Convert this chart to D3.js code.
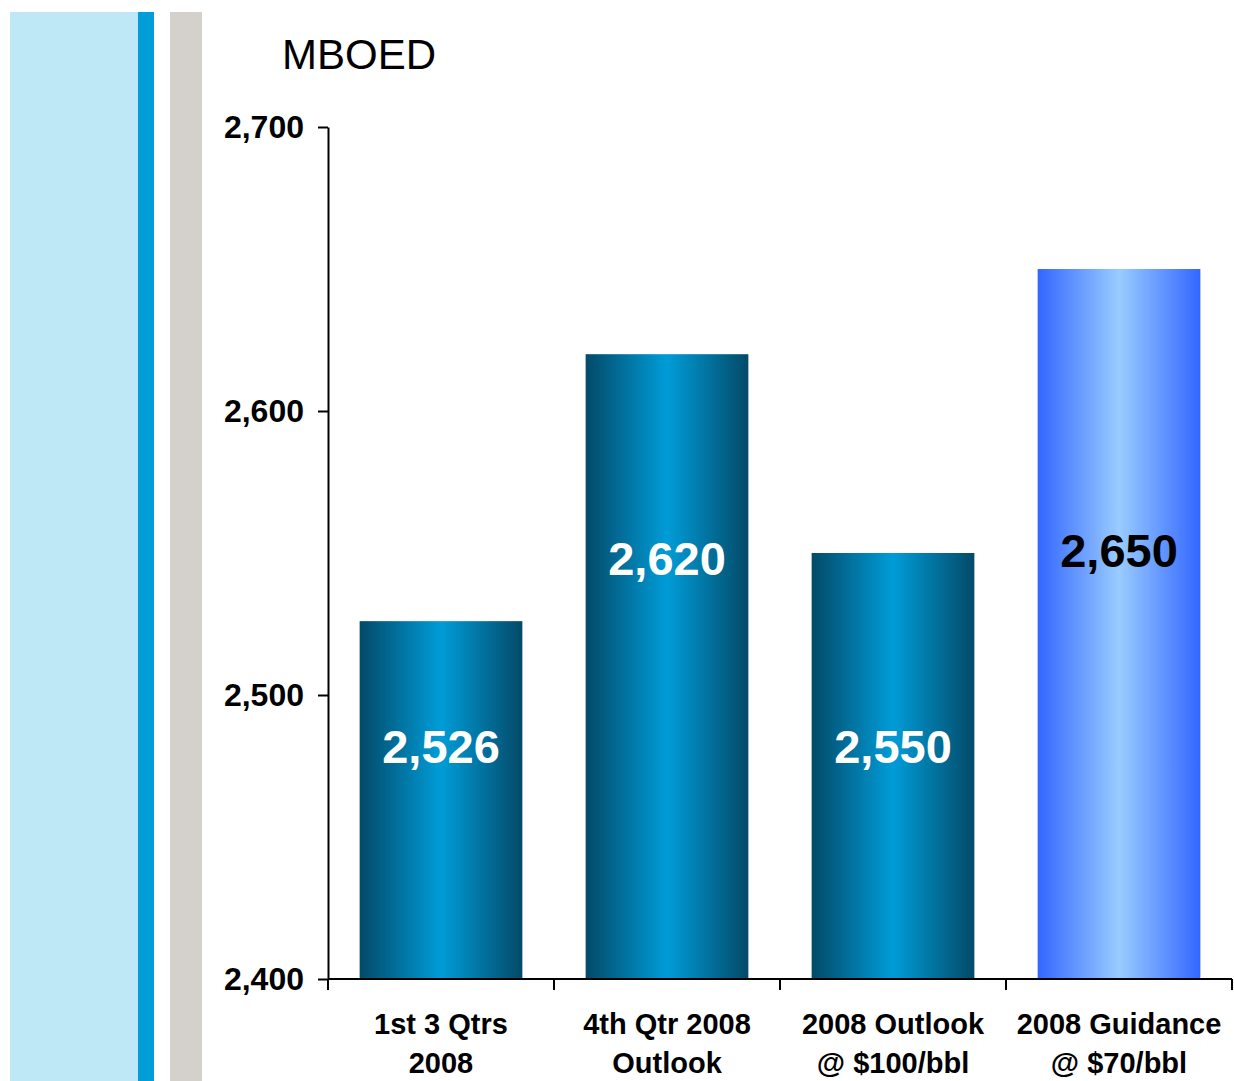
<!DOCTYPE html>
<html>
<head>
<meta charset="utf-8">
<script src="https://cdn.jsdelivr.net/npm/d3@7/dist/d3.min.js"></script>
<style>
  html, body { margin: 0; padding: 0; background: #ffffff; }
  svg { display: block; }
  text { font-family: "Liberation Sans", Arial, sans-serif; }
</style>
</head>
<body>
<script>
// Production figures (thousand barrels of oil equivalent per day)
const categories = [
  ["1st 3 Qtrs", "2008"],
  ["4th Qtr 2008", "Outlook"],
  ["2008 Outlook", "@ $100/bbl"],
  ["2008 Guidance", "@ $70/bbl"]
];
const values = [2526, 2620, 2550, 2650];
const valueLabels = ["2,526", "2,620", "2,550", "2,650"];
// where each value label sits, in axis units
const labelAt = [2482, 2548, 2482, 2551];
const barStyle = ["dark", "dark", "dark", "light"];
const yTicks = [2400, 2500, 2600, 2700];
const yTickLabels = ["2,400", "2,500", "2,600", "2,700"];
const unitLabel = "MBOED";

const W = 1234, H = 1081;
const svg = d3.select("body").append("svg").attr("width", W).attr("height", H);

// Decorative side stripes
svg.append("rect").attr("x", 10).attr("y", 12).attr("width", 128).attr("height", H - 12).attr("fill", "#bee8f5");
svg.append("rect").attr("x", 138).attr("y", 12).attr("width", 16).attr("height", H - 12).attr("fill", "#009ed9");
svg.append("rect").attr("x", 170).attr("y", 12).attr("width", 32).attr("height", H - 12).attr("fill", "#d4d0cc");

// Horizontal bar gradients
const defs = svg.append("defs");
function grad(id, edge, mid) {
  const g = defs.append("linearGradient").attr("id", id)
    .attr("x1", "0%").attr("x2", "100%").attr("y1", "0%").attr("y2", "0%");
  g.append("stop").attr("offset", "0%").attr("stop-color", edge);
  g.append("stop").attr("offset", "50%").attr("stop-color", mid);
  g.append("stop").attr("offset", "100%").attr("stop-color", edge);
}
grad("dark", "#034a68", "#009cd8");
grad("light", "#3366ff", "#99ccff");

const plotLeft = 328, plotRight = 1232, plotTop = 127, plotBottom = 979;

const x = d3.scaleBand()
  .domain(categories.map((d, i) => i))
  .range([plotLeft, plotRight])
  .paddingInner(0.28)
  .paddingOuter(0.14);

const y = d3.scaleLinear().domain([2400, 2700]).range([plotBottom, plotTop]);

// Bars
svg.append("g").selectAll("rect")
  .data(values)
  .join("rect")
  .attr("x", (d, i) => x(i))
  .attr("y", d => y(d))
  .attr("width", x.bandwidth())
  .attr("height", d => y(2400) - y(d))
  .attr("fill", (d, i) => `url(#${barStyle[i]})`);

// Value labels
svg.append("g").selectAll("text")
  .data(valueLabels)
  .join("text")
  .attr("x", (d, i) => x(i) + x.bandwidth() / 2)
  .attr("y", (d, i) => y(labelAt[i]))
  .attr("text-anchor", "middle")
  .attr("dominant-baseline", "central")
  .attr("font-size", 47)
  .attr("font-weight", "bold")
  .attr("fill", (d, i) => barStyle[i] === "dark" ? "#ffffff" : "#000000")
  .text(d => d);

// Y axis
const yAxis = d3.axisLeft(y)
  .tickValues(yTicks)
  .tickFormat((d, i) => yTickLabels[i])
  .tickSize(10)
  .tickSizeOuter(0)
  .tickPadding(14);
const yg = svg.append("g").attr("transform", `translate(${plotLeft},0)`).call(yAxis);
yg.select(".domain").attr("stroke", "#000").attr("stroke-width", 2);
yg.selectAll(".tick line").attr("stroke", "#000").attr("stroke-width", 2);
yg.selectAll(".tick text")
  .attr("font-size", 32)
  .attr("font-weight", "bold")
  .attr("fill", "#000")
  .attr("font-family", "'Liberation Sans', Arial, sans-serif");

// X axis line with ticks at band boundaries
svg.append("line")
  .attr("x1", plotLeft).attr("x2", plotRight)
  .attr("y1", plotBottom).attr("y2", plotBottom)
  .attr("stroke", "#000").attr("stroke-width", 2);
const step = x.step();
const bounds = d3.range(categories.length + 1).map(i => plotLeft + i * step);
svg.append("g").selectAll("line")
  .data(bounds)
  .join("line")
  .attr("x1", d => d).attr("x2", d => d)
  .attr("y1", plotBottom).attr("y2", plotBottom + 11)
  .attr("stroke", "#000").attr("stroke-width", 2);

// Category labels (two lines each)
const cat = svg.append("g").selectAll("text")
  .data(categories)
  .join("text")
  .attr("text-anchor", "middle")
  .attr("font-size", 29)
  .attr("font-weight", "bold")
  .attr("fill", "#000");
cat.each(function (lines, i) {
  const t = d3.select(this);
  lines.forEach((ln, j) => {
    t.append("tspan")
      .attr("x", x(i) + x.bandwidth() / 2)
      .attr("y", plotBottom + 55 + j * 39)
      .text(ln);
  });
});

// Unit label
svg.append("text")
  .attr("x", 282)
  .attr("y", 69)
  .attr("font-size", 42)
  .attr("fill", "#000")
  .text(unitLabel);
</script>
</body>
</html>
